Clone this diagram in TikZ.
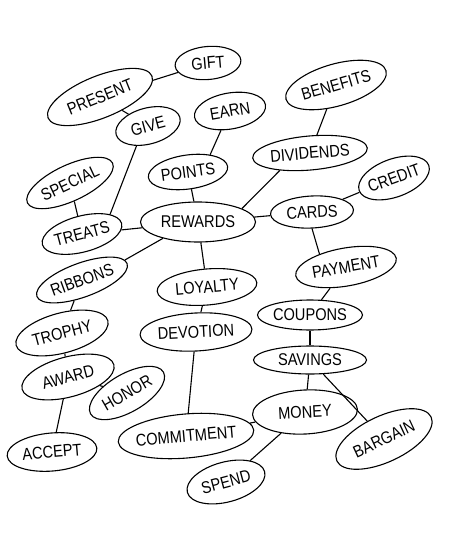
\documentclass[tikz,border=0pt]{standalone}
\usepackage{graphicx}
\usepackage{fontspec}
\setmainfont{Liberation Sans}
\usetikzlibrary{shapes.geometric}

\newcommand{\bubbletext}[1]{\makebox[0pt]{\scalebox{0.86}[1]{#1}}}

\begin{document}
\begin{tikzpicture}[x=1pt,y=-1pt,line width=1.1pt,
  bubble/.style={ellipse,draw,inner sep=0pt,font=\fontsize{17}{20}\selectfont}]
\useasboundingbox (0,0) rectangle (450,556);

\node[bubble,minimum width=66,minimum height=33,rotate=5] (gift) at (208,63) {\bubbletext{GIFT}};
\node[bubble,minimum width=112,minimum height=42,rotate=22] (present) at (100,97) {\bubbletext{PRESENT}};
\node[bubble,minimum width=66,minimum height=36,rotate=15] (give) at (148,126) {\bubbletext{GIVE}};
\node[bubble,minimum width=72,minimum height=36,rotate=10] (earn) at (230,111) {\bubbletext{EARN}};
\node[bubble,minimum width=104,minimum height=42,rotate=16] (benefits) at (336,85) {\bubbletext{BENEFITS}};
\node[bubble,minimum width=115,minimum height=34,rotate=5] (dividends) at (310,153) {\bubbletext{DIVIDENDS}};
\node[bubble,minimum width=80,minimum height=34,rotate=8] (points) at (188,172) {\bubbletext{POINTS}};
\node[bubble,minimum width=94,minimum height=36,rotate=25] (special) at (70,183) {\bubbletext{SPECIAL}};
\node[bubble,minimum width=74,minimum height=38,rotate=20] (credit) at (394,178) {\bubbletext{CREDIT}};
\node[bubble,minimum width=83,minimum height=32,rotate=3] (cards) at (312,212) {\bubbletext{CARDS}};
\node[bubble,minimum width=115,minimum height=40] (rewards) at (198,222) {\bubbletext{REWARDS}};
\node[bubble,minimum width=82,minimum height=36,rotate=15] (treats) at (82,234) {\bubbletext{TREATS}};

\node[bubble,minimum width=96,minimum height=34,rotate=20] (ribbons) at (82,280) {\bubbletext{RIBBONS}};
\node[bubble,minimum width=102,minimum height=38,rotate=10] (payment) at (346,267) {\bubbletext{PAYMENT}};
\node[bubble,minimum width=100,minimum height=36,rotate=5] (loyalty) at (207,287) {\bubbletext{LOYALTY}};
\node[bubble,minimum width=105,minimum height=30] (coupons) at (310,315) {\bubbletext{COUPONS}};
\node[bubble,minimum width=95,minimum height=40,rotate=15] (trophy) at (62,333) {\bubbletext{TROPHY}};
\node[bubble,minimum width=112,minimum height=38,rotate=3] (devotion) at (196,332) {\bubbletext{DEVOTION}};
\node[bubble,minimum width=113,minimum height=28] (savings) at (310,360) {\bubbletext{SAVINGS}};
\node[bubble,minimum width=95,minimum height=40,rotate=15] (award) at (68,377) {\bubbletext{AWARD}};
\node[bubble,minimum width=84,minimum height=38,rotate=30] (honor) at (127,393) {\bubbletext{HONOR}};
\node[bubble,minimum width=105,minimum height=44,rotate=3] (money) at (305,412) {\bubbletext{MONEY}};
\node[bubble,minimum width=136,minimum height=44,rotate=5] (commitment) at (186,436) {\bubbletext{COMMITMENT}};
\node[bubble,minimum width=104,minimum height=46,rotate=25] (bargain) at (384,439) {\bubbletext{BARGAIN}};
\node[bubble,minimum width=90,minimum height=38,rotate=5] (accept) at (52,452) {\bubbletext{ACCEPT}};
\node[bubble,minimum width=80,minimum height=40,rotate=15] (spend) at (226,482) {\bubbletext{SPEND}};

\draw (present) -- (gift);
\draw (present) -- (give);
\draw (give.-135) -- (treats.20);
\draw (special) -- (treats);
\draw (treats) -- (rewards);
\draw (earn.-125) -- (points.30);
\draw (points) -- (rewards);
\draw (benefits) -- (dividends);
\draw (dividends.-155) -- (rewards.17);
\draw (rewards) -- (cards);
\draw (cards) -- (credit);
\draw (cards.-93) -- (payment.144);
\draw (rewards.-155) -- (ribbons.5);
\draw (rewards) -- (loyalty);
\draw (ribbons) -- (trophy);
\draw (trophy) -- (award);
\draw (award) -- (honor);
\draw (award) -- (accept);
\draw (loyalty) -- (devotion);
\draw (devotion) -- (commitment);
\draw (payment) -- (coupons);
\draw (coupons) -- (savings);
\draw (savings) -- (money);
\draw (savings) -- (bargain);
\draw (commitment) -- (money);
\draw (money) -- (spend);
\end{tikzpicture}
\end{document}
